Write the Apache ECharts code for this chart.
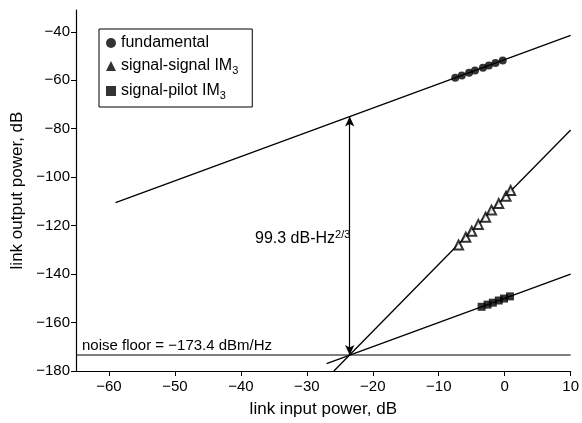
<!DOCTYPE html>
<html lang="en">
<head>
    <meta charset="UTF-8">
    <title>link power</title>
    <style>
        body{margin:0;background:#fff;}
        .chart{width:582px;height:423px;}
    </style>
</head>
<body>
<div class="chart" id="showData"></div>
<script src="https://cdn.jsdelivr.net/npm/echarts@6/dist/echarts.min.js"></script>
<script>
    // measured points
    var fundX = [-7.5, -6.5, -5.4, -4.5, -3.3, -2.4, -1.4, -0.3];
    var fundY = [-59.0, -58.0, -56.9, -56.0, -54.8, -53.9, -52.9, -51.8];
    var ssX = [-7.0, -5.9, -5.0, -4.0, -2.9, -2.0, -0.9, 0.2, 0.9];
    var ssY = [-128.0, -124.8, -122.3, -119.5, -116.5, -113.6, -110.9, -107.9, -105.5];
    var spX = [-3.5, -2.6, -1.8, -0.9, -0.1, 0.8];
    var spY = [-153.5, -152.6, -151.8, -150.9, -150.1, -149.2];

    // fitted lines (end points)
    var fundLineX = [-59, 10];
    var fundLineY = [-110.5, -41.5];
    var ssLineX = [-25.9, 10];
    var ssLineY = [-180, -80.5];
    var spLineX = [-27, 10];
    var spLineY = [-177, -140];

    var noiseFloor = -173.4;
    var noiseX = [-65, 10];
    var arrowX = -23.5;
    var arrowTop = -75;

    var xTicks = [-60, -50, -40, -30, -20, -10, 0, 10];
    var yTicks = [-40, -60, -80, -100, -120, -140, -160, -180];

    function pairs(xs, ys) {
        var out = [];
        for (var i = 0; i < xs.length; i++) out.push([xs[i], ys[i]]);
        return out;
    }

    var font = "'Liberation Sans', Arial, sans-serif";

    function lineSeries(xs, ys) {
        return {
            type: 'line', data: pairs(xs, ys), symbol: 'none', silent: true,
            lineStyle: {color: '#000', width: 1.3}, z: 2
        };
    }

    function minus(v) { return String(v).replace('-', '\u2212'); }

    var solid = {color: '#000', borderWidth: 0};

    var mychart = echarts.init(document.getElementById("showData"));
    var option = {
        animation: false,
        textStyle: {fontFamily: font, color: '#000'},
        grid: {left: 76, right: 9, top: 10, bottom: 50},
        legend: {
            orient: 'vertical', left: 99, top: 29,
            borderColor: '#000', borderWidth: 1, borderRadius: 0,
            padding: [6, 14, 6, 7], itemGap: 7, itemWidth: 10, itemHeight: 10,
            textStyle: {
                fontFamily: font, fontSize: 16, color: '#000',
                rich: {sub: {fontSize: 11, verticalAlign: 'bottom', padding: [9, 0, 0, 0], fontFamily: font}}
            },
            formatter: function (n) { return n.replace('IM3', 'IM{sub|3}'); },
            data: [
                {name: 'fundamental', icon: 'circle', itemStyle: solid},
                {name: 'signal-signal IM3', icon: 'triangle', itemStyle: solid},
                {name: 'signal-pilot IM3', icon: 'rect', itemStyle: solid}
            ]
        },
        xAxis: {
            type: 'value', min: -65, max: 10, interval: 5,
            name: 'link input power, dB', nameLocation: 'middle', nameGap: 30,
            nameTextStyle: {fontSize: 17, color: '#000', fontFamily: font},
            axisLine: {onZero: false, lineStyle: {color: '#000', width: 1.2}},
            axisTick: {show: true, length: 5, lineStyle: {color: '#000'}, customValues: xTicks},
            axisLabel: {fontSize: 15, color: '#000', margin: 8, customValues: xTicks, formatter: minus},
            splitLine: {show: false}
        },
        yAxis: {
            type: 'value', min: -180, max: -31, interval: 20,
            name: 'link output power, dB', nameLocation: 'middle', nameGap: 50,
            nameTextStyle: {fontSize: 17, color: '#000', fontFamily: font},
            axisLine: {onZero: false, lineStyle: {color: '#000', width: 1.2}},
            axisTick: {show: true, length: 5, lineStyle: {color: '#000'}, customValues: yTicks},
            axisLabel: {fontSize: 15, color: '#000', margin: 6, customValues: yTicks, formatter: minus},
            splitLine: {show: false}
        },
        series: [
            lineSeries(fundLineX, fundLineY),
            lineSeries(ssLineX, ssLineY),
            lineSeries(spLineX, spLineY),
            {
                type: 'line', silent: true, symbol: 'none',
                data: pairs(noiseX, [noiseFloor, noiseFloor]),
                lineStyle: {color: '#000', width: 1.2},
                markLine: {
                    silent: true, symbol: ['arrow', 'arrow'], symbolSize: [7, 10],
                    label: {show: false},
                    lineStyle: {color: '#000', width: 1.2, type: 'solid'},
                    data: [[{coord: [arrowX, noiseFloor]}, {coord: [arrowX, arrowTop]}]]
                }
            },
            {
                name: 'fundamental', type: 'scatter', data: pairs(fundX, fundY),
                symbol: 'circle', symbolSize: 8, itemStyle: {color: '#000'}, z: 3
            },
            {
                name: 'signal-signal IM3', type: 'scatter', data: pairs(ssX, ssY),
                symbol: 'triangle', symbolSize: 9,
                itemStyle: {color: '#fff', borderColor: '#000', borderWidth: 2}, z: 3
            },
            {
                name: 'signal-pilot IM3', type: 'scatter', data: pairs(spX, spY),
                symbol: 'rect', symbolSize: 8, itemStyle: {color: '#000'}, z: 3
            }
        ],
        graphic: [
            {
                type: 'text', left: 82, top: 338,
                style: {text: 'noise floor = \u2212173.4 dBm/Hz', font: '15px ' + font, fill: '#000'}
            },
            {
                type: 'text', left: 255, top: 229,
                style: {
                    text: '99.3 dB-Hz{sup|2/3}', font: '16px ' + font, fill: '#000',
                    rich: {sup: {fontSize: 11, verticalAlign: 'top', padding: [0, 0, 9, 0], fontFamily: font}}
                }
            }
        ]
    };
    mychart.setOption(option);
</script>
</body>
</html>
